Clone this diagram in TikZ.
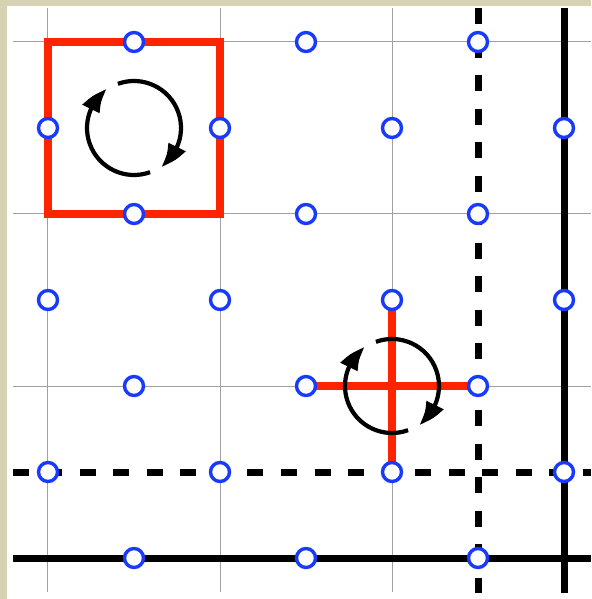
\documentclass[tikz,border=0pt]{standalone}
\usepackage{tikz}
\usetikzlibrary{arrows.meta,bending}
\definecolor{tcBlue}{RGB}{24,58,255}
\definecolor{tcRed}{RGB}{255,36,0}
\definecolor{tcPaper}{RGB}{214,211,180}
\definecolor{tcGrid}{RGB}{160,160,160}
\tikzset{
  qubit/.style={circle, draw=tcBlue, fill=white, line width=3.4pt, minimum size=19pt, inner sep=0pt},
  gridline/.style={draw=tcGrid, line width=1pt},
  cutline/.style={draw=black, line width=7pt},
  dualcut/.style={cutline, dash pattern=on 16pt off 17.5pt},
  opline/.style={draw=tcRed, line width=8pt, line join=miter},
  turn/.style={draw=black, line width=4.2pt, -{Triangle[length=26pt,width=18pt,bend]}}
}
\begin{document}
\begin{tikzpicture}[x=86pt, y=86pt]
\useasboundingbox (-0.5581,-0.4767) rectangle (6.3140,6.4884);
\fill[tcPaper] (-0.5581,-0.4767) rectangle (6.3140,6.4884);
\fill[white] (-0.4767,-0.4767) rectangle (6.3140,6.4186);
% lattice points
\foreach \i in {0,...,6}
  \foreach \j in {0,...,6}
    \coordinate (p-\i-\j) at (\i,\j);
% thin grid
\foreach \k in {0,2,4,6} {
  \draw[gridline] (\k,6.395) -- (\k,-0.395);
  \draw[gridline] (-0.407,\k) -- (6.314,\k);
}
% boundaries
\draw[cutline] (-0.407,0) -- (6.314,0);
\draw[cutline] (6,6.395) -- (6,-0.407);
\draw[dualcut] (-0.407,1) -- (6.314,1);
\draw[dualcut] (5,6.395) -- (5,-0.407);
% plaquette and star
\draw[opline] (p-0-4) rectangle (p-2-6);
\draw[opline] (p-3-2) -- (p-5-2) (p-4-1) -- (p-4-3);
\foreach \c in {p-1-5, p-4-2} {
  \draw[turn] ([shift={(110:47pt)}]\c) arc[start angle=110, end angle=-55, radius=47pt];
  \draw[turn] ([shift={(-70:47pt)}]\c) arc[start angle=-70, end angle=-235, radius=47pt];
}
% qubits on edges
\foreach \j in {0,2,4,6}
  \foreach \i in {1,3,5}
    \node[qubit] (q-\i-\j) at (p-\i-\j) {};
\foreach \j in {1,3,5}
  \foreach \i in {0,2,4,6}
    \node[qubit] (q-\i-\j) at (p-\i-\j) {};
\end{tikzpicture}
\end{document}
